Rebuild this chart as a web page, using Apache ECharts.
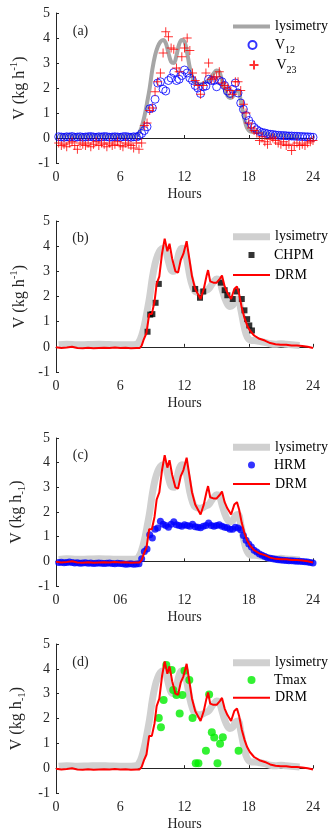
<!DOCTYPE html>
<html><head><meta charset="utf-8">
<script src="https://cdn.jsdelivr.net/npm/echarts@6/dist/echarts.min.js"></script>
<style>html,body{margin:0;padding:0;background:#fff}#c{width:331px;height:836px}</style>
</head><body><div id="c"></div>
<script>
// ---------- data ----------
const xTicksStd = ['0', '6', '12', '18', '24'];
const xTicksC = ['0', '06', '12', '18', '24'];
const yTicks = ['-1', '0', '1', '2', '3', '4', '5'];

// 15-minute sampling hours (0.25 ... 24)
const hours15 = [0.25,0.5,0.75,1,1.25,1.5,1.75,2,2.25,2.5,2.75,3,3.25,3.5,3.75,4,4.25,4.5,4.75,5,
  5.25,5.5,5.75,6,6.25,6.5,6.75,7,7.25,7.5,7.75,8,8.25,8.5,8.75,9,9.25,9.5,9.75,10,
  10.25,10.5,10.75,11,11.25,11.5,11.75,12,12.25,12.5,12.75,13,13.25,13.5,13.75,14,14.25,14.5,14.75,15,
  15.25,15.5,15.75,16,16.25,16.5,16.75,17,17.25,17.5,17.75,18,18.25,18.5,18.75,19,19.25,19.5,19.75,20,
  20.25,20.5,20.75,21,21.25,21.5,21.75,22,22.25,22.5,22.75,23,23.25,23.5,23.75,24];

const v12 = [0.05,0.04,0.03,0.05,0.04,0.06,0.03,0.04,0.05,0.03,0.04,0.05,0.06,0.04,0.03,0.05,0.04,0.06,0.05,0.03,
  0.04,0.05,0.04,0.03,0.05,0.06,0.04,0.03,0.05,0.04,
  0.08,0.18,0.3,0.45,1.17,1.2,1.55,2.2,2.25,1.95,
  1.88,2.3,2.4,2.62,2.3,2.35,2.5,2.72,2.6,2.4,
  2.3,2.1,2.0,1.78,2.05,2.08,2.35,2.3,2.3,2.05,
  2.3,2.25,2.1,1.88,1.78,1.95,2.2,1.8,1.4,1.15,
  0.9,0.7,0.55,0.42,0.33,0.26,0.22,0.2,0.17,0.15,
  0.14,0.12,0.11,0.1,0.1,0.09,0.08,0.08,0.07,0.07,
  0.06,0.06,0.05,0.05,0.04,0.03];

const v23 = [-0.2,-0.3,-0.25,-0.35,-0.2,-0.15,-0.3,-0.45,-0.2,-0.25,-0.3,-0.2,-0.35,-0.25,-0.15,-0.3,-0.2,-0.25,-0.35,-0.2,
  -0.3,-0.25,-0.15,-0.3,-0.35,-0.2,-0.25,-0.3,-0.4,-0.2,
  -0.45,-0.2,0.5,0.6,1.1,1.2,1.85,2.25,2.6,3.4,
  4.25,4.05,3.6,3.55,2.8,2.65,3.25,3.6,4.0,3.5,
  2.6,2.3,2.1,1.75,2.1,2.6,3.0,2.35,2.4,2.45,
  2.65,2.2,2.1,2.0,1.9,1.75,2.25,2.25,1.9,1.35,
  1.0,0.6,0.4,0.3,0.2,-0.1,0.05,-0.15,-0.25,-0.05,
  0.0,-0.1,-0.2,-0.25,-0.15,-0.3,-0.25,-0.5,-0.3,-0.2,
  -0.3,-0.25,-0.3,-0.2,-0.15,-0.1];

const hrm = [-0.05,-0.04,-0.06,-0.05,-0.03,-0.05,-0.07,-0.06,-0.08,-0.07,-0.06,-0.08,-0.07,-0.09,-0.08,-0.07,-0.08,-0.09,-0.08,-0.07,
  -0.09,-0.1,-0.08,-0.09,-0.1,-0.12,-0.11,-0.1,-0.12,-0.11,
  -0.1,0.1,0.4,0.5,1.08,0.95,1.3,1.35,1.62,1.5,
  1.45,1.38,1.5,1.6,1.48,1.45,1.42,1.48,1.45,1.42,
  1.5,1.4,1.38,1.36,1.42,1.45,1.55,1.45,1.42,1.45,
  1.48,1.42,1.38,1.36,1.3,1.3,1.38,1.35,1.28,1.05,
  0.85,0.7,0.58,0.45,0.38,0.3,0.25,0.2,0.15,0.12,
  0.1,0.08,0.06,0.05,0.04,0.03,0.02,0.02,0.01,0.0,
  0.0,-0.01,-0.02,-0.03,-0.05,-0.07];

const lysHours = [0.25,1,2,3,4,5,6,7,7.5,7.75,
  8,8.25,8.5,8.75,9,9.25,9.5,9.75,10,10.25,
  10.5,10.75,11,11.25,11.5,11.75,12,12.25,12.5,12.75,
  13,13.5,14,14.25,14.5,14.75,15,15.25,15.5,15.75,
  16,16.25,16.5,16.75,17,17.25,17.5,17.75,18,18.25,
  18.5,19,19.5,20,20.5,21,21.5,22,22.75];
const lysV = [0.08,0.1,0.08,0.09,0.1,0.09,0.08,0.08,0.1,0.2,
  0.45,0.85,1.4,2.0,2.75,3.3,3.65,3.85,3.92,3.8,
  3.4,3.05,3.0,3.3,3.75,3.92,3.85,3.4,2.8,2.4,
  2.2,2.15,2.25,2.3,2.45,2.6,2.7,2.65,2.3,1.95,
  1.7,1.6,1.65,1.85,1.9,1.5,0.95,0.5,0.3,0.25,
  0.25,0.22,0.18,0.12,0.1,0.12,0.1,0.08,0.05];

const drmHours = [0,0.5,1,1.5,2,2.5,3,3.5,4,4.5,5,5.5,6,6.5,7,7.5,
  7.8,8.0,8.2,8.45,8.7,8.95,9.2,9.4,9.65,9.9,
  10.15,10.4,10.6,10.85,11.15,11.4,11.65,11.9,12.2,12.45,
  12.7,13.0,13.25,13.5,13.8,14.05,14.2,14.4,14.7,15.0,
  15.3,15.5,15.75,16.0,16.35,16.65,16.9,17.1,17.35,17.6,
  17.85,18.1,18.5,19,19.5,20,20.5,21,21.5,22,
  22.5,23,23.5,24];
const drmV = [-0.02,-0.05,-0.03,0.0,-0.05,-0.06,-0.04,-0.06,-0.05,-0.04,-0.05,-0.03,-0.05,-0.04,-0.06,-0.05,
  -0.05,0.05,0.3,0.55,1.3,1.3,1.8,2.5,2.8,3.7,
  4.3,3.8,4.1,3.5,3.0,2.95,3.45,3.7,4.2,3.5,
  2.8,2.3,2.1,1.9,2.3,2.8,3.05,2.6,2.55,2.55,
  2.7,2.83,2.4,2.15,1.9,2.3,2.4,2.1,1.55,1.15,
  0.85,0.65,0.45,0.32,0.25,0.15,0.1,0.08,0.08,0.05,
  0.05,0.03,0.0,-0.05];

const chpmHours = [8.55,8.8,9.0,9.3,9.6,13.0,13.45,13.75,15.4,15.75,16.0,16.5,16.9,17.35,17.6,17.85,18.05,18.3];
const chpmV = [0.6,1.28,1.3,1.75,2.5,2.3,1.95,2.2,2.55,2.25,2.05,1.9,2.2,1.9,1.45,1.1,0.85,0.65];

const tmaxHours = [9.6,9.8,10.05,10.3,10.8,10.95,11.25,11.55,11.8,12.0,12.45,12.75,13.05,13.3,14.0,14.3,14.55,14.78,15.08,15.32,15.58,17.05];
const tmaxV = [2.02,1.65,2.75,4.15,3.95,3.15,2.95,2.2,2.95,3.92,3.55,2.02,0.2,0.2,0.7,2.97,1.45,1.23,0.2,0.98,1.24,0.7];

const panelLabels = ['(a)', '(b)', '(c)', '(d)'];

// ---------- helpers ----------
const zip = (xs, ys) => xs.map((x, i) => [x, ys[i]]);
const FONT = 'Liberation Serif';
const INK = '#262626';
const grids = [
  {left: 56, top: 13, width: 257, height: 150},
  {left: 56, top: 221, width: 257, height: 151},
  {left: 56, top: 438, width: 257, height: 148},
  {left: 56, top: 644, width: 257, height: 149}
];

function xAxis(i, labels) {
  return {
    type: 'value', gridIndex: i, min: 0, max: 24, interval: 6,
    axisLine: {lineStyle: {color: INK, width: 1}},
    axisTick: {inside: true, length: 3, lineStyle: {color: INK}},
    axisLabel: {formatter: v => labels[Math.round(v / 6)], fontFamily: FONT, fontSize: 14, color: INK, margin: 7},
    splitLine: {show: false},
    name: 'Hours', nameLocation: 'middle', nameGap: 24,
    nameTextStyle: {fontFamily: FONT, fontSize: 14, color: INK}
  };
}
function yAxis(i, sub) {
  return {
    type: 'value', gridIndex: i, min: -1, max: 5, interval: 1,
    axisLine: {show: true, lineStyle: {color: INK, width: 1}},
    axisTick: {show: true, inside: true, length: 3, lineStyle: {color: INK}},
    axisLabel: {formatter: v => yTicks[Math.round(v + 1)], fontFamily: FONT, fontSize: 14, color: INK, margin: 6},
    splitLine: {show: false},
    name: sub ? '{t|V (kg h}{b|-1}{t|)}' : '{t|V (kg h}{p|-1}{t|)}',
    nameLocation: 'middle', nameGap: 24,
    nameTextStyle: {
      fontFamily: FONT, fontSize: 16, color: INK,
      rich: {
        t: {fontFamily: FONT, fontSize: 16, color: INK, lineHeight: 22},
        p: {fontFamily: FONT, fontSize: 11, color: INK, lineHeight: 11, verticalAlign: 'top'},
        b: {fontFamily: FONT, fontSize: 11, color: INK, lineHeight: 11, verticalAlign: 'bottom'}
      }
    }
  };
}

const lysA = {name: 'lysA', type: 'line', xAxisIndex: 0, yAxisIndex: 0, data: zip(lysHours, lysV),
  symbol: 'none', smooth: 0.4, lineStyle: {color: '#a6a6a6', width: 4}, itemStyle: {color: '#a6a6a6'}, z: 1};
function lysB(i) {
  return {name: 'lys' + i, type: 'line', xAxisIndex: i, yAxisIndex: i, data: zip(lysHours, lysV),
    symbol: 'none', smooth: 0.4, lineStyle: {color: '#d0d0d0', width: 7}, itemStyle: {color: '#d0d0d0'}, z: 1};
}
function drm(i) {
  return {name: 'drm' + i, type: 'line', xAxisIndex: i, yAxisIndex: i, data: zip(drmHours, drmV),
    symbol: 'none', lineStyle: {color: '#ff0000', width: 2}, itemStyle: {color: '#ff0000'}, z: 4};
}
const PLUS = 'path://M0,5L10,5M5,0L5,10';

const series = [
  lysA,
  {name: 'v12', type: 'scatter', xAxisIndex: 0, yAxisIndex: 0, data: zip(hours15, v12), clip: false,
    symbol: 'circle', symbolSize: 8, itemStyle: {color: 'rgba(0,0,0,0)', borderColor: '#0000ff', borderWidth: 1}, z: 2},
  {name: 'v23', type: 'scatter', xAxisIndex: 0, yAxisIndex: 0, data: zip(hours15, v23), clip: false,
    symbol: PLUS, symbolSize: 9, itemStyle: {color: 'none', borderColor: '#ff0000', borderWidth: 1}, z: 3},
  lysB(1),
  {name: 'chpm', type: 'scatter', xAxisIndex: 1, yAxisIndex: 1, data: zip(chpmHours, chpmV),
    symbol: 'rect', symbolSize: 6, itemStyle: {color: '#000000'}, z: 3},
  drm(1),
  lysB(2),
  {name: 'hrm', type: 'scatter', xAxisIndex: 2, yAxisIndex: 2, data: zip(hours15, hrm), clip: false,
    symbol: 'circle', symbolSize: 7, itemStyle: {color: '#0000ff'}, z: 3},
  drm(2),
  lysB(3),
  {name: 'tmax', type: 'scatter', xAxisIndex: 3, yAxisIndex: 3, data: zip(tmaxHours, tmaxV),
    symbol: 'circle', symbolSize: 8, itemStyle: {color: '#00ee00'}, z: 3},
  drm(3)
];

const legendText = {
  lysA: 'lysimetry', lys1: 'lysimetry', lys2: 'lysimetry', lys3: 'lysimetry',
  v12: '{v|V}{s|12}', v23: '{v|V}{s|23}', chpm: 'CHPM', hrm: 'HRM', tmax: 'Tmax',
  drm1: 'DRM', drm2: 'DRM', drm3: 'DRM'
};
const LEG_ICON_LEFT = 233, LEG_ICON_W = 37, LEG_TEXT_LEFT = 274;
function legend(name, cy, opts, padLeft) {
  const h = 20;
  return Object.assign({
    data: [name], orient: 'vertical', left: LEG_ICON_LEFT, top: cy - h / 2, padding: 0,
    itemWidth: LEG_ICON_W, itemHeight: 8, selectedMode: false,
    formatter: n => legendText[n],
    textStyle: {fontFamily: FONT, fontSize: 14, color: '#000', lineHeight: h,
      padding: [0, 0, 0, padLeft || 0],
      rich: {
        v: {fontFamily: FONT, fontSize: 14, color: '#000', lineHeight: 20},
        s: {fontFamily: FONT, fontSize: 10, color: '#000', lineHeight: 10, verticalAlign: 'bottom'}
      }}
  }, opts || {});
}
// line-type entries: a bar of the line's colour and width
function lineLegend(name, cy, w) {
  return legend(name, cy, {itemHeight: w, data: [{name: name, icon: 'rect'}]});
}
// marker-type entries: marker centred under the line entries, text aligned with theirs
function markLegend(name, cy, size, icon) {
  const d = icon ? [{name: name, icon: icon}] : [name];
  const left = LEG_ICON_LEFT + LEG_ICON_W / 2 - size / 2;
  const pad = LEG_TEXT_LEFT - (left + size + 5);
  return legend(name, cy, {left: left, itemHeight: size, itemWidth: size, data: d}, pad);
}
const legends = [
  lineLegend('lysA', 26.5, 4),
  markLegend('v12', 45, 8),
  markLegend('v23', 65, 9),
  lineLegend('lys1', 236.7, 7),
  markLegend('chpm', 255, 6, 'rect'),
  lineLegend('drm1', 275, 2),
  lineLegend('lys2', 447.3, 7),
  markLegend('hrm', 465, 7),
  lineLegend('drm2', 484, 2),
  lineLegend('lys3', 662.7, 7),
  markLegend('tmax', 680, 8),
  lineLegend('drm3', 697.7, 2)
];

const labelPos = [[80.5, 31.5], [80.5, 238], [80.5, 455.5], [80.5, 662.5]];
const graphics = panelLabels.map((t, i) => ({
  type: 'text', x: labelPos[i][0], y: labelPos[i][1],
  style: {text: t, fontFamily: FONT, fontSize: 14, fill: INK, align: 'center', verticalAlign: 'middle'}
}));

const chart = echarts.init(document.getElementById('c'), null, {renderer: 'canvas'});
chart.setOption({
  animation: false,
  backgroundColor: '#ffffff',
  grid: grids,
  xAxis: [xAxis(0, xTicksStd), xAxis(1, xTicksStd), xAxis(2, xTicksC), xAxis(3, xTicksStd)],
  yAxis: [yAxis(0, false), yAxis(1, false), yAxis(2, true), yAxis(3, true)],
  legend: legends,
  graphic: graphics,
  series: series
});
</script></body></html>
